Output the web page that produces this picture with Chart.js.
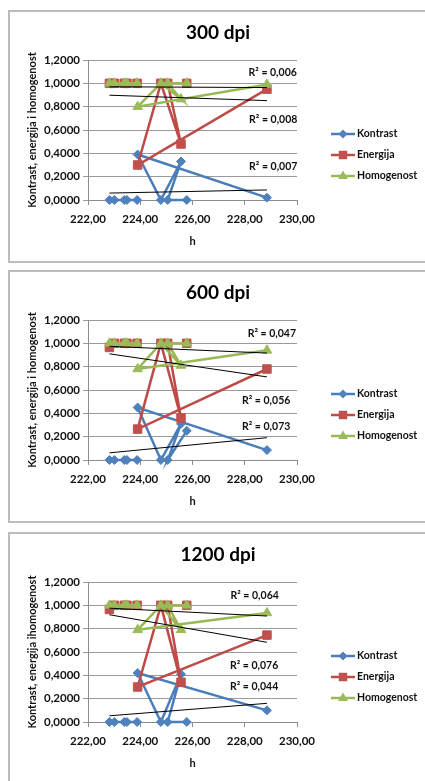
<!DOCTYPE html>
<html>
<head>
<meta charset="utf-8">
<script src="https://cdn.jsdelivr.net/npm/chart.js@4.4.0/dist/chart.umd.min.js"></script>
<style>
    body { margin: 0; width: 425px; height: 781px; overflow: hidden; background: #fff; }
    .panel { position: absolute; left: 8px; width: 440px; height: 249px; border: 2px solid #bcbcbc; background: #fff; }
    .panel canvas { position: absolute; left: 0; top: 0; }
</style>
</head>
<body>
<div class="panel" style="top:10px"><canvas id="c300" width="420" height="249"></canvas></div>
<div class="panel" style="top:270px"><canvas id="c600" width="420" height="249"></canvas></div>
<div class="panel" style="top:532px"><canvas id="c1200" width="420" height="249"></canvas></div>
<script>
// h values in the order the points were entered (null = break in the line)
const h = [222.82, 223.01, 223.39, 223.49, 223.88, null, 228.85, 223.90, 224.79, 225.56, 225.05, 225.78];

const kontrast300 = [0, 0, 0, 0, 0, null, 0.02, 0.39, 0, 0.33, 0, 0];
const energija300 = [1, 1, 1, 1, 1, null, 0.95, 0.30, 1, 0.48, 1, 1];
const homogenost300 = [1, 1, 1, 1, 1, null, 0.99, 0.80, 1, 0.865, 1, 1];

const kontrast600 = [0, 0, 0, 0, 0, null, 0.085, 0.45, 0, 0.31, 0, 0.25];
const energija600 = [0.965, 1, 1, 1, 1, null, 0.78, 0.265, 1, 0.36, 1, 1];
const homogenost600 = [1, 1, 1, 1, 1, null, 0.94, 0.78, 1, 0.81, 1, 1];

const kontrast1200 = [0, 0, 0, 0, 0, null, 0.10, 0.42, 0, 0.41, 0, 0];
const energija1200 = [0.965, 1, 1, 1, 1, null, 0.745, 0.30, 1, 0.34, 1, 1];
const homogenost1200 = [1, 1, 1, 1, 1, null, 0.935, 0.79, 1, 0.79, 1, 1];

const seriesNames = ["Kontrast", "Energija", "Homogenost"];
const xTicks = [222, 224, 226, 228, 230];
const yTicks = [0, 0.2, 0.4, 0.6, 0.8, 1.0, 1.2];

// R² labels (text and anchor in data units)
const r2Text300 = ["R² = 0,006", "R² = 0,008", "R² = 0,007"];
const r2X300 = [229.07, 229.09, 229.09];
const r2Y300 = [1.09, 0.69, 0.285];
const r2Text600 = ["R² = 0,047", "R² = 0,056", "R² = 0,073"];
const r2X600 = [229.04, 228.82, 228.82];
const r2Y600 = [1.086, 0.506, 0.287];
const r2Text1200 = ["R² = 0,064", "R² = 0,076", "R² = 0,044"];
const r2X1200 = [228.38, 228.36, 228.36];
const r2Y1200 = [1.086, 0.48, 0.30];

const FONT = "Lato, 'Open Sans', sans-serif";
Chart.defaults.font.family = FONT;
Chart.defaults.color = "#111";

const styles = [
    { line: "#4A7EBB", fill: "#4F81BD", point: "rectRot", radius: 4.5 },
    { line: "#BE4B48", fill: "#C0504D", point: "rect", radius: 6 },
    { line: "#98B954", fill: "#9BBB59", point: "triangle", radius: 5.5 },
];

// Linear least squares trend, from min to max h
function trend(xs, ys) {
    const pts = [];
    xs.forEach((x, i) => { if (x !== null && ys[i] !== null) pts.push([x, ys[i]]); });
    const n = pts.length;
    const mx = pts.reduce((s, p) => s + p[0], 0) / n;
    const my = pts.reduce((s, p) => s + p[1], 0) / n;
    let sxy = 0, sxx = 0;
    pts.forEach((p) => { sxy += (p[0] - mx) * (p[1] - my); sxx += (p[0] - mx) ** 2; });
    const b = sxy / sxx;
    const lo = Math.min(...pts.map((p) => p[0]));
    const hi = Math.max(...pts.map((p) => p[0]));
    return [{ x: lo, y: my + b * (lo - mx) }, { x: hi, y: my + b * (hi - mx) }];
}

function drawMarker(ctx, style, x, y) {
    const r = style.radius;
    ctx.beginPath();
    if (style.point === "rectRot") {
        ctx.moveTo(x, y - r); ctx.lineTo(x + r, y); ctx.lineTo(x, y + r); ctx.lineTo(x - r, y);
    } else if (style.point === "rect") {
        const s = r * Math.SQRT1_2;
        ctx.rect(x - s, y - s, 2 * s, 2 * s);
    } else {
        ctx.moveTo(x, y - r); ctx.lineTo(x + r * 0.9, y + r * 0.55); ctx.lineTo(x - r * 0.9, y + r * 0.55);
    }
    ctx.closePath();
    ctx.fillStyle = style.fill;
    ctx.fill();
}

// Excel-like legend on the right: line with marker, then name
const sideLegend = {
    id: "sideLegend",
    afterDraw(chart) {
        const ctx = chart.ctx;
        const area = chart.chartArea;
        ctx.save();
        seriesNames.forEach((name, i) => {
            const st = styles[i];
            const y = area.top + 74 + i * 21;
            const x0 = area.right + 34;
            ctx.strokeStyle = st.line;
            ctx.lineWidth = 2.5;
            ctx.beginPath();
            ctx.moveTo(x0, y);
            ctx.lineTo(x0 + 24, y);
            ctx.stroke();
            drawMarker(ctx, st, x0 + 12, y);
            ctx.fillStyle = "#111";
            ctx.font = "bold 10.5px " + FONT;
            ctx.textAlign = "left";
            ctx.textBaseline = "middle";
            ctx.fillText(name, x0 + 26, y);
        });
        ctx.restore();
    },
};

// Chart title centred over the whole panel, not just the plot
const panelTitle = {
    id: "panelTitle",
    afterDraw(chart, args, opts) {
        const ctx = chart.ctx;
        ctx.save();
        ctx.fillStyle = "#000";
        ctx.font = "bold 19px " + FONT;
        ctx.textAlign = "center";
        ctx.textBaseline = "middle";
        ctx.fillText(opts.text, chart.chartArea.left + 130, 21);
        ctx.restore();
    },
};

const r2Labels = {
    id: "r2Labels",
    afterDatasetsDraw(chart, args, opts) {
        const ctx = chart.ctx;
        ctx.save();
        ctx.fillStyle = "#111";
        ctx.font = "bold 10.5px " + FONT;
        ctx.textAlign = "center";
        ctx.textBaseline = "middle";
        opts.text.forEach((t, i) => {
            const px = chart.scales.x.getPixelForValue(opts.xs[i]);
            const py = chart.scales.y.getPixelForValue(opts.ys[i]);
            ctx.fillText(t, px, py);
        });
        ctx.restore();
    },
};

function renderPanel(canvasId, title, yTitle, k, e, hm, r2Text, r2X, r2Y) {
    const ctx = document.getElementById(canvasId);
    const values = [k, e, hm];

    const datasets = values.map((vals, i) => ({
        label: seriesNames[i],
        data: h.map((x, j) => ({ x: x, y: vals[j] })),
        showLine: true,
        borderColor: styles[i].line,
        backgroundColor: styles[i].fill,
        pointBackgroundColor: styles[i].fill,
        pointBorderColor: styles[i].fill,
        pointBorderWidth: 1,
        pointStyle: styles[i].point,
        pointRadius: styles[i].radius,
        borderWidth: 2.5,
        tension: 0,
        spanGaps: false,
        clip: false,
        order: 3 - i,
    }));

    values.forEach((vals, i) => {
        datasets.push({
            label: "trend " + seriesNames[i],
            data: trend(h, vals),
            showLine: true,
            borderColor: "#000",
            borderWidth: 1,
            pointRadius: 0,
            order: 0,
        });
    });

    new Chart(ctx, {
        type: "scatter",
        data: { datasets: datasets },
        plugins: [sideLegend, r2Labels, panelTitle],
        options: {
            responsive: false,
            animation: false,
            layout: { padding: { left: 0, right: 133, top: 48, bottom: 0 } },
            plugins: {
                legend: { display: false },
                tooltip: { enabled: false },
                title: { display: false },
                panelTitle: { text: title },
                r2Labels: { text: r2Text, xs: r2X, ys: r2Y },
            },
            scales: {
                x: {
                    type: "linear",
                    min: xTicks[0],
                    max: xTicks[xTicks.length - 1],
                    afterBuildTicks: (scale) => { scale.ticks = xTicks.map((v) => ({ value: v })); },
                    afterFit: (scale) => { scale.height = 61; },
                    grid: { drawOnChartArea: false, drawTicks: true, tickLength: 5, color: "#8c8c8c" },
                    border: { color: "#8c8c8c", width: 1 },
                    ticks: {
                        color: "#111",
                        padding: 7,
                        maxRotation: 0,
                        font: { size: 11.5, weight: "bold" },
                        callback: (v) => v.toFixed(2).replace(".", ","),
                    },
                    title: {
                        display: true,
                        text: "h",
                        color: "#111",
                        font: { size: 11, weight: "bold" },
                        padding: { top: 0, bottom: 13 },
                    },
                },
                y: {
                    min: yTicks[0],
                    max: yTicks[yTicks.length - 1],
                    afterBuildTicks: (scale) => { scale.ticks = yTicks.map((v) => ({ value: v })); },
                    afterFit: (scale) => { scale.width = 78; },
                    grid: { color: "#9a9a9a", tickLength: 5 },
                    border: { color: "#8c8c8c", width: 1 },
                    ticks: {
                        color: "#111",
                        padding: 3,
                        font: { size: 11.5, weight: "bold" },
                        callback: (v) => v.toFixed(4).replace(".", ","),
                    },
                    title: {
                        display: true,
                        text: yTitle,
                        color: "#111",
                        font: { size: 11, weight: "bold" },
                        padding: { top: 16, bottom: 0 },
                    },
                },
            },
        },
    });
}

renderPanel("c300", "300 dpi", "Kontrast, energija i homogenost",
    kontrast300, energija300, homogenost300, r2Text300, r2X300, r2Y300);
renderPanel("c600", "600 dpi", "Kontrast, energija i homogenost",
    kontrast600, energija600, homogenost600, r2Text600, r2X600, r2Y600);
renderPanel("c1200", "1200 dpi", "Kontrast, energija ihomogenost",
    kontrast1200, energija1200, homogenost1200, r2Text1200, r2X1200, r2Y1200);
</script>
</body>
</html>
